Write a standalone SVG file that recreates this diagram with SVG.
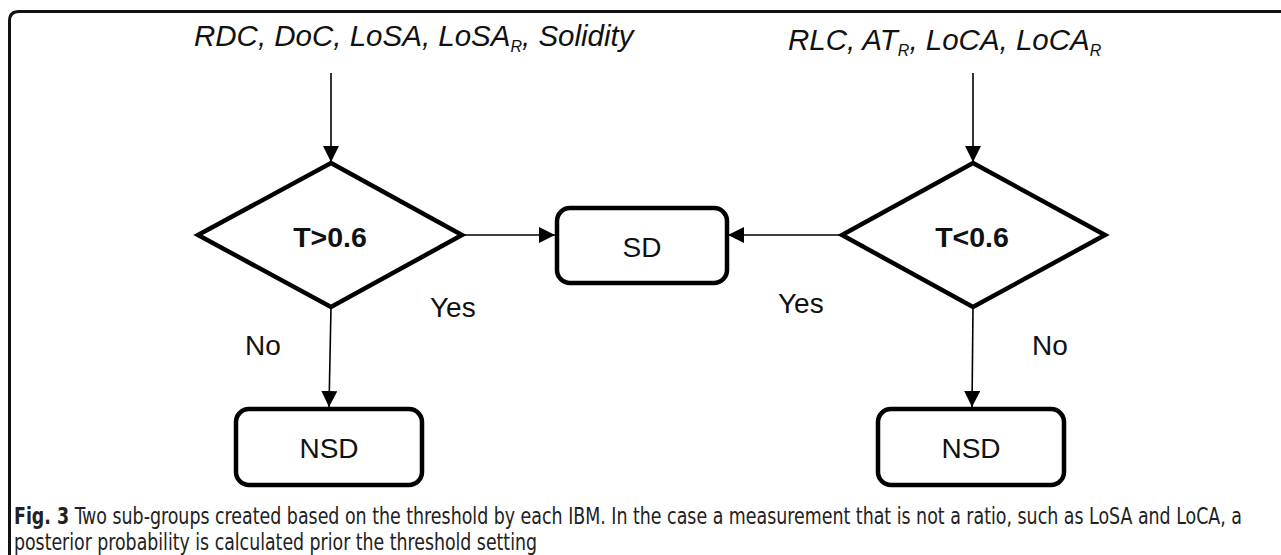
<svg xmlns="http://www.w3.org/2000/svg" width="1281" height="555" viewBox="0 0 1281 555">
<style>
.shape{fill:#fff;stroke:#000;stroke-width:4.5;stroke-linejoin:miter}
.box{fill:#fff;stroke:#000;stroke-width:4.5}
.conn{stroke:#000;stroke-width:1.6;fill:none}
.lbl{font-family:"Liberation Sans",Arial,sans-serif;font-size:28px;fill:#111}
.cond{font-family:"Liberation Sans",Arial,sans-serif;font-size:28.5px;font-weight:bold;fill:#111}
.inp{font-family:"Liberation Sans",Arial,sans-serif;font-size:29.5px;font-style:italic;fill:#111}
.sub{font-size:16px}
.cap{font-family:"DejaVu Sans Condensed","Open Sans",sans-serif;font-size:17px;fill:#222}
</style>
<defs>
<marker id="ahb" viewBox="0 0 10 10" refX="10" refY="5" markerWidth="10" markerHeight="10" orient="auto">
<path d="M0,0 L10,5 L0,10 z" fill="#000"/>
</marker>
</defs>
<rect width="1281" height="555" fill="#fff"/>
<path d="M9.5,555 V21 Q9.5,11.5 19,11.5 H1281" fill="none" stroke="#111" stroke-width="3"/>

<g id="input-left">
<text class="inp" x="194" y="46">RDC, DoC, LoSA, LoSA<tspan class="sub" dy="6">R</tspan><tspan dy="-6">, Solidity</tspan></text>
</g>
<g id="input-right">
<text class="inp" x="788" y="50">RLC, AT<tspan class="sub" dy="6">R</tspan><tspan dy="-6">, LoCA, LoCA</tspan><tspan class="sub" dy="6">R</tspan></text>
</g>

<g id="connectors">
<line class="conn" x1="331" y1="73" x2="331" y2="162" marker-end="url(#ahb)"/>
<line class="conn" x1="973" y1="73" x2="973" y2="162" marker-end="url(#ahb)"/>
<line class="conn" x1="462" y1="235" x2="555" y2="235" marker-end="url(#ahb)"/>
<line class="conn" x1="842" y1="235" x2="728" y2="235" marker-end="url(#ahb)"/>
<line class="conn" x1="331" y1="307" x2="329" y2="407" marker-end="url(#ahb)"/>
<line class="conn" x1="973" y1="307" x2="972" y2="407" marker-end="url(#ahb)"/>
</g>

<g id="decision-left">
<polygon class="shape" points="331,163 462,235 331,307 198,235"/>
<text class="cond" x="330" y="247" text-anchor="middle">T&gt;0.6</text>
</g>
<g id="decision-right">
<polygon class="shape" points="973,163 1105,235 973,307 842,235"/>
<text class="cond" x="972" y="247" text-anchor="middle">T&lt;0.6</text>
</g>
<g id="sd">
<rect class="box" x="557" y="208" width="170" height="75" rx="13"/>
<text class="lbl" x="642" y="257" text-anchor="middle">SD</text>
</g>
<g id="nsd-left">
<rect class="box" x="236" y="409" width="186" height="76" rx="13"/>
<text class="lbl" x="329" y="458" text-anchor="middle">NSD</text>
</g>
<g id="nsd-right">
<rect class="box" x="878" y="409" width="186" height="76" rx="13"/>
<text class="lbl" x="971" y="458" text-anchor="middle">NSD</text>
</g>

<g id="labels">
<text class="lbl" x="430" y="317">Yes</text>
<text class="lbl" x="778" y="313">Yes</text>
<text class="lbl" x="245" y="355">No</text>
<text class="lbl" x="1032" y="355">No</text>
</g>

<g id="caption">
<text class="cap" transform="translate(14,524) scale(1,1.3)" x="0" y="0" textLength="1228" lengthAdjust="spacingAndGlyphs"><tspan font-weight="bold">Fig. 3</tspan> Two sub-groups created based on the threshold by each IBM. In the case a measurement that is not a ratio, such as LoSA and LoCA, a</text>
<text class="cap" transform="translate(14,550) scale(1,1.3)" x="0" y="0" textLength="523" lengthAdjust="spacingAndGlyphs">posterior probability is calculated prior the threshold setting</text>
</g>
</svg>
